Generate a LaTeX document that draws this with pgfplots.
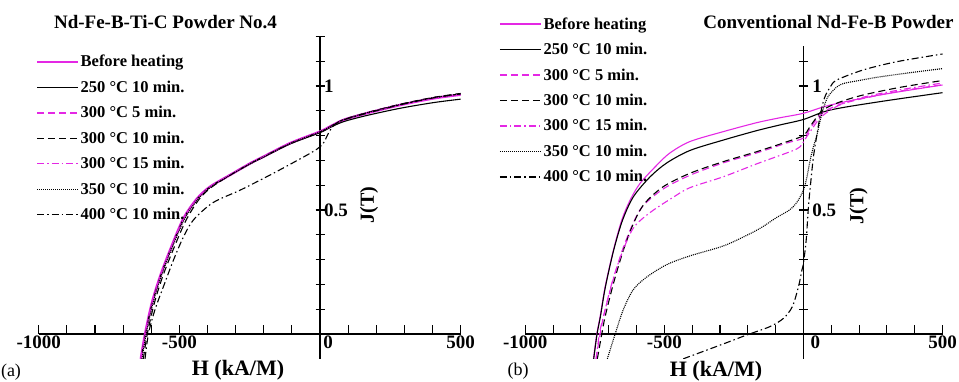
\documentclass[border=0pt]{standalone}
\usepackage{fontspec}
\setmainfont{Liberation Serif}
\usepackage{pgfplots}
\pgfplotsset{compat=1.18}
\definecolor{mag}{RGB}{228,40,228}
\pgfplotsset{
  jstyle/.style={
    scale only axis, axis lines=middle, axis line style={-, line width=1.2pt},
    xmin=-1000, xmax=500, ymin=-0.1, clip=true,
    xtick={-1000,-500,500}, xticklabels={-1000,-500,500},
    minor xtick={-900,-800,-700,-600,-400,-300,-200,-100,100,200,300,400},
    ytick={0.5,1}, yticklabels={0.5,1},
    minor ytick={0.1,0.2,0.3,0.4,0.6,0.7,0.8,0.9,1.1,1.2},
    tick align=center, major tick length=9pt, minor tick length=9pt,
    every tick/.style={black, line width=1.1pt},
    every major x tick/.append style={yshift=4.5pt},
    every minor x tick/.append style={yshift=4.5pt},
    ticklabel style={font=\bfseries\fontsize{19}{19}\selectfont},
    xticklabel style={anchor=north, yshift=6.5pt},
    yticklabel style={anchor=west},
    legend cell align=left,
    every axis plot/.append style={line width=1.1pt, smooth, tension=0.5},
  },
  pdash/.style={dash pattern=on 7pt off 4pt},
  pdashdot/.style={dash pattern=on 7pt off 3pt on 1.5pt off 3pt},
  pdot/.style={dash pattern=on 1pt off 1pt},
}
\begin{document}
\begin{tikzpicture}[x=1pt,y=1pt]
\path[use as bounding box] (0,0) rectangle (959,381);

% ---------------- panel (a)
\begin{axis}[jstyle, at={(38.7pt,22.2pt)}, anchor=south west,
  width=422pt, height=322.4pt, ymax=1.2,
  extra x ticks={0}, extra x tick labels={0},
  extra x tick style={xticklabel style={xshift=8pt}},
  yticklabel style={xshift=5pt},
  legend image code/.code={\draw[#1, line width=1.3pt] (-4pt,0pt) -- (37pt,0pt);},
  legend style={at={(-0.006,0.948)}, anchor=north west, draw=none, fill=none,
    inner sep=0pt, row sep=8.5pt,
    font=\bfseries\fontsize{16.5}{16.5}\selectfont},
]
\addplot[mag, line width=2.4pt, forget plot] coordinates {(-637,-0.1) (-622,0) (-598,0.124) (-569,0.231) (-533,0.339) (-486,0.465) (-438,0.545) (-391,0.594) (-320,0.641) (-245,0.69) (-201,0.715) (-107,0.769) (0,0.816) (35,0.836) (83,0.863) (166,0.89) (284,0.923) (403,0.95) (500,0.965)};
\addplot[mag] coordinates {(-637,-0.1) (-622,0) (-598,0.124) (-569,0.231) (-533,0.339) (-486,0.465) (-438,0.545) (-391,0.594) (-320,0.641) (-245,0.69) (-201,0.715) (-107,0.769) (0,0.816) (35,0.836) (83,0.863) (166,0.89) (284,0.923) (403,0.95) (500,0.965)};
\addlegendentry{Before heating}
\addplot[black] coordinates {(-636,-0.1) (-621,0) (-597,0.124) (-568,0.231) (-532,0.339) (-485,0.465) (-437,0.545) (-390,0.594) (-320,0.641) (-245,0.688) (-201,0.713) (-107,0.766) (0,0.812) (35,0.832) (83,0.856) (166,0.881) (284,0.91) (403,0.933) (500,0.947)};
\addlegendentry{250 °C 10 min.}
\addplot[mag, pdash] coordinates {(-635,-0.1) (-620,0) (-596,0.124) (-567,0.231) (-531,0.339) (-484,0.465) (-436,0.545) (-389,0.594) (-320,0.643) (-245,0.692) (-201,0.717) (-107,0.771) (0,0.818) (35,0.838) (83,0.865) (166,0.893) (284,0.926) (403,0.953) (500,0.968)};
\addlegendentry{300 °C 5 min.}
\addplot[black, pdash] coordinates {(-628,-0.1) (-614,0) (-590,0.12) (-560,0.23) (-522,0.34) (-478,0.455) (-432,0.54) (-388,0.59) (-320,0.64) (-245,0.69) (-201,0.715) (-107,0.768) (0,0.815) (35,0.836) (83,0.864) (166,0.892) (284,0.926) (403,0.954) (500,0.97)};
\addlegendentry{300 °C 10 min.}
\addplot[mag, pdashdot] coordinates {(-637,-0.1) (-622,0) (-598,0.124) (-569,0.231) (-533,0.339) (-486,0.465) (-438,0.545) (-391,0.594) (-320,0.641) (-245,0.69) (-201,0.715) (-107,0.769) (0,0.816) (35,0.836) (83,0.863) (166,0.89) (284,0.923) (403,0.95) (500,0.966)};
\addlegendentry{300 °C 15 min.}
\addplot[black, pdot] coordinates {(-633,-0.1) (-618,0) (-594,0.124) (-565,0.231) (-529,0.339) (-483,0.46) (-435,0.542) (-389,0.592) (-320,0.64) (-245,0.689) (-201,0.714) (-107,0.768) (0,0.815) (35,0.836) (83,0.864) (166,0.892) (284,0.925) (403,0.953) (500,0.968)};
\addlegendentry{350 °C 10 min.}
\addplot[black, pdashdot] coordinates {(-622,-0.1) (-610,0) (-587,0.097) (-557,0.19) (-521,0.298) (-486,0.39) (-450,0.46) (-380,0.53) (-284,0.58) (-166,0.648) (-36,0.728) (0,0.755) (15,0.775) (30,0.81) (50,0.843) (83,0.863) (166,0.89) (284,0.924) (403,0.952) (500,0.968)};
\addlegendentry{400 °C 10 min.}
\end{axis}

% ---------------- panel (b)
\begin{axis}[jstyle, at={(525.3pt,22.2pt)}, anchor=south west,
  width=417.2pt, height=312.5pt, ymax=1.16,
  minor ytick={0.1,0.2,0.3,0.4,0.6,0.7,0.8,0.9,1.1},
  extra x ticks={0}, extra x tick labels={0},
  extra x tick style={xticklabel style={xshift=12pt}},
  yticklabel style={xshift=10pt},
  legend image code/.code={\draw[#1, line width=1.3pt] (-4pt,0pt) -- (37pt,0pt);},
  legend style={at={(-0.063,1.099)}, anchor=north west, draw=none, fill=none,
    inner sep=0pt, row sep=8.5pt,
    font=\bfseries\fontsize{16.5}{16.5}\selectfont},
]
\addplot[mag] coordinates {(-755,-0.1) (-743,0) (-731,0.07) (-713,0.19) (-683,0.339) (-653,0.46) (-623,0.54) (-587,0.608) (-527,0.681) (-480,0.73) (-408,0.776) (-288,0.816) (-168,0.852) (-84,0.872) (0,0.89) (96,0.923) (276,0.964) (500,1.004)};
\addlegendentry{Before heating}
\addplot[black] coordinates {(-754,-0.1) (-742,0) (-730,0.07) (-712,0.19) (-682,0.339) (-650,0.46) (-611,0.554) (-551,0.634) (-491,0.69) (-408,0.74) (-288,0.782) (-168,0.82) (-84,0.843) (0,0.865) (96,0.903) (276,0.937) (500,0.973)};
\addlegendentry{250 °C 10 min.}
\addplot[mag, pdash] coordinates {(-746,-0.1) (-731,0) (-719,0.07) (-689,0.2) (-652,0.335) (-615,0.44) (-578,0.515) (-504,0.585) (-408,0.64) (-288,0.69) (-168,0.73) (-60,0.77) (0,0.79) (25,0.83) (50,0.87) (80,0.9) (130,0.925) (216,0.95) (350,0.98) (500,1.005)};
\addlegendentry{300 °C 5 min.}
\addplot[black, pdash] coordinates {(-741,-0.1) (-725,0) (-713,0.07) (-683,0.204) (-647,0.339) (-611,0.446) (-572,0.525) (-504,0.594) (-408,0.648) (-288,0.695) (-168,0.735) (-60,0.775) (0,0.8) (20,0.83) (45,0.87) (72,0.905) (130,0.935) (216,0.964) (350,0.995) (500,1.022)};
\addlegendentry{300 °C 10 min.}
\addplot[mag, pdashdot] coordinates {(-745,-0.1) (-734,0) (-719,0.07) (-689,0.204) (-653,0.325) (-611,0.428) (-551,0.49) (-470,0.55) (-408,0.59) (-288,0.634) (-168,0.686) (-48,0.735) (-12,0.755) (12,0.796) (36,0.835) (55,0.865) (80,0.89) (130,0.923) (216,0.955) (350,0.985) (500,1.012)};
\addlegendentry{300 °C 15 min.}
\addplot[black, pdot] coordinates {(-705,-0.1) (-677,0) (-647,0.10) (-611,0.18) (-563,0.23) (-491,0.28) (-408,0.315) (-288,0.355) (-200,0.40) (-150,0.43) (-96,0.47) (-50,0.50) (-24,0.53) (0,0.58) (12,0.63) (24,0.70) (36,0.755) (48,0.80) (60,0.86) (72,0.91) (90,0.96) (132,1.005) (200,1.022) (276,1.037) (400,1.056) (500,1.07)};
\addlegendentry{350 °C 10 min.}
\addplot[black, pdashdot] coordinates {(-432,-0.1) (-288,-0.04) (-204,-0.004) (-120,0.03) (-72,0.063) (-40,0.11) (-18,0.19) (-5,0.26) (0,0.285) (10,0.38) (18,0.513) (27,0.62) (36,0.715) (48,0.80) (60,0.88) (75,0.95) (96,0.995) (120,1.024) (216,1.065) (336,1.098) (500,1.129)};
\addlegendentry{400 °C 10 min.}
\end{axis}

% ---------------- texts
\node[font=\bfseries\fontsize{19}{19}\selectfont] at (165.5,359) {Nd-Fe-B-Ti-C Powder No.4};
\node[font=\bfseries\fontsize{19}{19}\selectfont] at (828.5,358.5) {Conventional Nd-Fe-B Powder};
\node[font=\bfseries\fontsize{22}{22}\selectfont] at (238,11) {H (kA/M)};
\node[font=\bfseries\fontsize{22}{22}\selectfont] at (716,10) {H (kA/M)};
\node[font=\bfseries\fontsize{20}{20}\selectfont, rotate=90] at (369,176) {J(T)};
\node[font=\bfseries\fontsize{20}{20}\selectfont, rotate=90] at (858.5,175) {J(T)};
\node[font=\fontsize{18}{18}\selectfont] at (11,9) {(a)};
\node[font=\fontsize{18}{18}\selectfont] at (518,10) {(b)};
\end{tikzpicture}
\end{document}
